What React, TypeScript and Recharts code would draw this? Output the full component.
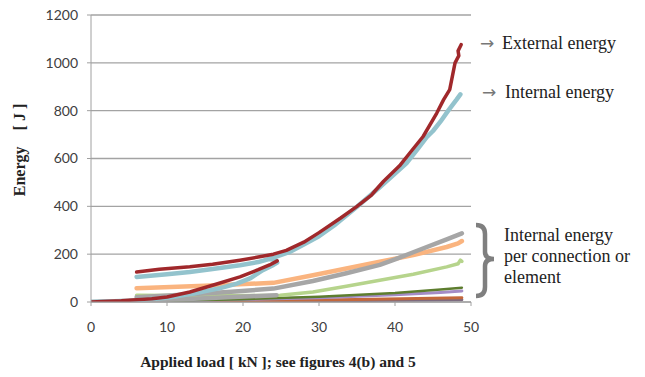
import React from 'react';
import { LineChart, Line, XAxis, YAxis, CartesianGrid } from 'recharts';

// External energy
const extLowerX = [0, 4, 8, 10, 13, 16, 19.6, 22, 23.5, 24.5];
const extLowerY = [0, 5, 14, 21, 42, 70, 105, 135, 155, 172];
const extMainX = [6, 9, 13, 16, 19.6, 22, 24, 25.7, 28, 30, 32.8, 35, 36.9, 37.3, 38.5, 40.7, 42, 43.7, 45.5, 46.4, 47.2, 47.9, 48.4, 48.3, 48.7];
const extMainY = [125, 137, 147, 158, 175, 188, 200, 216, 250, 290, 350, 400, 447, 462, 505, 573, 625, 692, 790, 846, 888, 1000, 1030, 1050, 1076];

// Internal energy
const intLowerX = [0, 5, 10, 13.5, 17, 19.2, 21, 22.6, 24, 24.5, 24.3, 23.5];
const intLowerY = [0, 5, 18, 35, 58, 77, 100, 133, 155, 165, 175, 180];
const intMainX = [6, 10, 13, 16, 19.6, 22, 24, 26.2, 28, 30, 32, 35, 38, 41.5, 43, 44.2, 45, 46, 47, 48.1, 48.6];
const intMainY = [105, 116, 125, 138, 154, 167, 185, 210, 240, 275, 320, 398, 480, 580, 640, 690, 715, 755, 800, 846, 868];

// Per connection / element
const orangeX = [6, 15, 24, 29.2, 33.6, 38, 42.4, 46.8, 48.3, 48.8];
const orangeY = [58, 68, 80, 112, 140, 168, 196, 230, 245, 255];
const greyLowerX = [0, 6, 12, 18, 24.4];
const greyLowerY = [0, 5, 12, 20, 28];
const greyMainX = [6, 12, 18, 24, 29.2, 33.6, 38, 40, 42.4, 46.8, 48.8];
const greyMainY = [20, 30, 42, 56, 88, 120, 155, 178, 208, 262, 287];
const greenX = [6, 15, 24.9, 29.2, 33.6, 38, 42.4, 46.8, 48.3, 48.6, 48.8];
const greenY = [28, 26, 28, 42, 66, 91, 116, 147, 160, 175, 170];
const darkGreenX = [0, 10, 20, 30, 40, 46, 48.8];
const darkGreenY = [0, 5, 12, 22, 38, 52, 60];
const purpleX = [0, 10, 20, 30, 40, 46, 48.8];
const purpleY = [0, 4, 10, 18, 30, 40, 46];
const brownX = [0, 20, 35, 48.8];
const brownY = [0, 5, 10, 18];
const baseX = [0, 25, 48.8];
const baseY = [0, 4, 9];

const xTicks = [0, 10, 20, 30, 40, 50];
const yTicks = [0, 200, 400, 600, 800, 1000, 1200];

const zip = (xs: number[], ys: number[]) => xs.map((x, i) => ({ x, y: ys[i] }));

const series = [
  { key: 'base', data: zip(baseX, baseY), color: '#7d6b80', w: 3 },
  { key: 'brown', data: zip(brownX, brownY), color: '#c4683c', w: 3 },
  { key: 'purple', data: zip(purpleX, purpleY), color: '#a48cc6', w: 3 },
  { key: 'darkgreen', data: zip(darkGreenX, darkGreenY), color: '#5d7d2e', w: 2.5 },
  { key: 'green', data: zip(greenX, greenY), color: '#b6d48c', w: 3.5 },
  { key: 'orange', data: zip(orangeX, orangeY), color: '#fab47f', w: 4.5 },
  { key: 'greyLower', data: zip(greyLowerX, greyLowerY), color: '#a6a6a6', w: 4.5 },
  { key: 'greyMain', data: zip(greyMainX, greyMainY), color: '#a6a6a6', w: 4.5 },
  { key: 'intLower', data: zip(intLowerX, intLowerY), color: '#93c3cd', w: 4.5 },
  { key: 'intMain', data: zip(intMainX, intMainY), color: '#93c3cd', w: 4.5 },
  { key: 'extLower', data: zip(extLowerX, extLowerY), color: '#a0282b', w: 3.5 },
  { key: 'extMain', data: zip(extMainX, extMainY), color: '#a0282b', w: 3.5 },
];

const tickStyle = { fontFamily: 'Lato, sans-serif', fontSize: 14, fill: '#404040' };
const serifStyle: React.CSSProperties = { fontFamily: "'Liberation Serif', 'DejaVu Serif', serif" };
const arrowStyle: React.CSSProperties = { fontFamily: "'DejaVu Sans', sans-serif" };

export default function App() {
  return (
    <div style={{ position: 'absolute', left: 0, top: 0, width: 645, height: 377, background: '#fff' }}>
      <LineChart width={645} height={377} margin={{ top: 15, right: 174, bottom: 0, left: 0 }}>
        <CartesianGrid horizontal vertical={false} stroke="#a3a3a3" strokeWidth={1.3} />
        <XAxis
          type="number"
          dataKey="x"
          domain={[0, 50]}
          ticks={xTicks}
          height={75}
          tickSize={4}
          tickMargin={16}
          stroke="#a0a0a0"
          tick={tickStyle}
          allowDataOverflow
        />
        <YAxis
          type="number"
          dataKey="y"
          domain={[0, 1200]}
          ticks={yTicks}
          width={91}
          tickSize={4}
          tickMargin={9}
          stroke="#a0a0a0"
          tick={tickStyle}
          allowDataOverflow
        />
        {series.map((s) => (
          <Line
            key={s.key}
            data={s.data}
            dataKey="y"
            type="linear"
            stroke={s.color}
            strokeWidth={s.w}
            dot={false}
            activeDot={false}
            isAnimationActive={false}
            strokeLinecap="round"
            strokeLinejoin="round"
          />
        ))}
      </LineChart>
      <svg width={645} height={377} style={{ position: 'absolute', left: 0, top: 0, pointerEvents: 'none' }}>
        <text
          transform="translate(25,150) rotate(-90)"
          textAnchor="middle"
          fontWeight="bold"
          fontSize={16}
          fill="#222"
          style={{ ...serifStyle, whiteSpace: 'pre' }}
        >
          {'Energy    [ J ]'}
        </text>
        <text x={278} y={367} textAnchor="middle" fontWeight="bold" fontSize={15.5} fill="#222" style={serifStyle}>
          Applied load [ kN ]; see figures 4(b) and 5
        </text>
        <text x={480} y={49} fontSize={17} fill="#777" style={arrowStyle}>→</text>
        <text x={502} y={49} fontSize={18} fill="#222" style={serifStyle}>External energy</text>
        <text x={482} y={98} fontSize={17} fill="#777" style={arrowStyle}>→</text>
        <text x={505} y={98} fontSize={18} fill="#222" style={serifStyle}>Internal energy</text>
        <path
          d="M476,225 Q485,225 485,234 L485,252 Q485,259 494,259 Q485,259 485,266 L485,287 Q485,296 476,296"
          fill="none"
          stroke="#7f7f7f"
          strokeWidth={4.5}
        />
        <text fontSize={18} fill="#222" style={serifStyle}>
          <tspan x={504} y={241}>Internal energy</tspan>
          <tspan x={504} y={262}>per connection or</tspan>
          <tspan x={504} y={283}>element</tspan>
        </text>
      </svg>
    </div>
  );
}
